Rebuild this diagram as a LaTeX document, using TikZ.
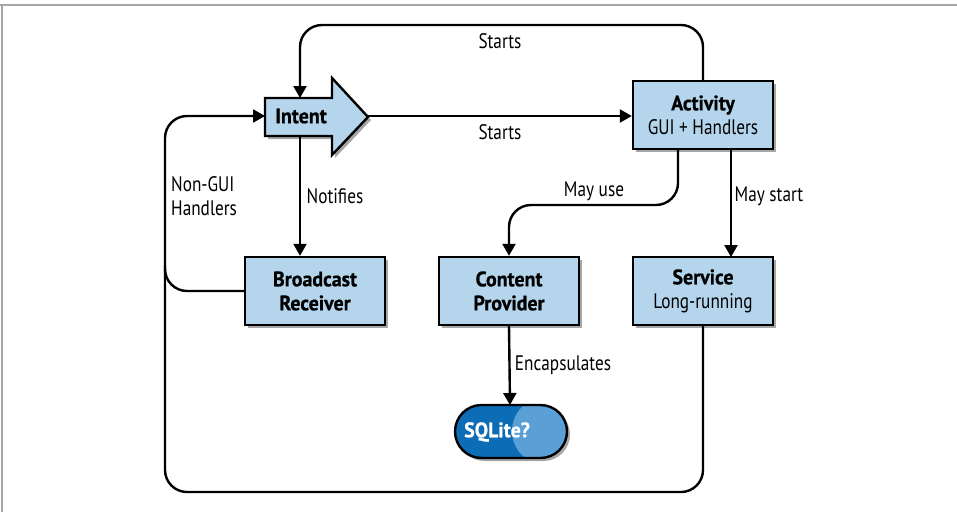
\documentclass[tikz,border=0pt]{standalone}
\usepackage{fontspec}
\setmainfont[FakeStretch=0.82]{PT Sans}
\newfontfamily\hb[FakeStretch=0.95,FakeBold=0.6]{PT Sans Bold}
\usetikzlibrary{arrows.meta,shadows}
\definecolor{boxblue}{RGB}{180,213,236}
\definecolor{sqldark}{RGB}{12,108,181}
\definecolor{sqllight}{RGB}{90,160,214}
\begin{document}
\begin{tikzpicture}[x=1pt,y=-1pt,
  every node/.style={font=\fontsize{21}{24}\selectfont},
  comp/.style={draw,line width=2.4pt,fill=boxblue,minimum width=140pt,minimum height=68pt,align=center,inner sep=0pt,
    drop shadow={shadow xshift=3pt,shadow yshift=-3pt,opacity=0.35,fill=black}},
  conn/.style={line width=2.4pt,rounded corners=22pt},
  arr/.style={conn,-{Triangle[length=12pt,width=13pt]}},
  lbl/.style={inner sep=0pt}]
\useasboundingbox (0,0) rectangle (957,512);
% frame
\draw[gray!70,line width=1.6pt] (0,5) -- (957,5);
\draw[gray!70,line width=1.2pt] (2,5) -- (2,512);

% Intent arrow shape
\draw[line width=2.4pt,fill=boxblue,line join=miter,
  drop shadow={shadow xshift=3pt,shadow yshift=-3pt,opacity=0.35,fill=black}]
  (265,98) -- (332,98) -- (332,78) -- (368,117) -- (332,155) -- (332,136) -- (265,136) -- cycle;
\node[font=\fontsize{21}{24}\selectfont\hb] (intent) at (301,116) {Intent};
\coordinate (intentTop) at (300,98);
\coordinate (intentBot) at (300,136);
\coordinate (intentL) at (265,116);
\coordinate (intentTip) at (368,116);

% boxes
\node[comp] (activity) at (703,115) {{\hb Activity}\\GUI + Handlers};
\node[comp] (broadcast) at (315,291) {{\hb Broadcast}\\{\hb Receiver}};
\node[comp] (content) at (509,291) {{\hb Content}\\{\hb Provider}};
\node[comp] (service) at (703,291) {{\hb Service}\\Long-running};

% SQLite capsule
\fill[black,opacity=0.35,rounded corners=26.5pt] (458,408) rectangle (570,461);
\begin{scope}
  \path[clip,rounded corners=26.5pt] (455,405) rectangle (567,458);
  \fill[sqldark] (440,395) rectangle (580,470);
  \fill[sqllight] (546,431) circle (34);
\end{scope}
\draw[line width=2.4pt,rounded corners=26.5pt] (455,405) rectangle (567,458);
\node[font=\fontsize{21}{24}\selectfont\hb,text=white] (sqlite) at (497,432) {SQLite?};
\coordinate (sqlTop) at (510,405);

% connectors
\draw[arr] (activity.north) -- (703,25) -- (300,25) -- (intentTop);
\draw[arr] (intentTip) -- (activity.west |- intentTip);
\draw[arr] (intentBot) -- (intentBot |- broadcast.north);
\draw[arr] (broadcast.west) -- (165,291) -- (165,116) -- (intentL);
\draw[conn] (service.south) -- (703,492) -- (165,492) -- (165,265);
\draw[arr] (678,149) -- (678,205) -- (509,205) -- (content.north);
\draw[arr] (731,149) -- (731 ,257);
\draw[arr] (content.south) -- (sqlTop);

% labels
\node[lbl] (l1) at (500,41) {Starts};
\node[lbl] (l2) at (500,132) {Starts};
\node[lbl] (l3) at (335,196) {Notifies};
\node[lbl,align=left,anchor=west] (l4) at (171,196) {Non-GUI\\Handlers};
\node[lbl] (l5) at (594,191) {May use};
\node[lbl] (l6) at (769,196) {May start};
\node[lbl] (l7) at (563,365) {Encapsulates};
\end{tikzpicture}
\end{document}
